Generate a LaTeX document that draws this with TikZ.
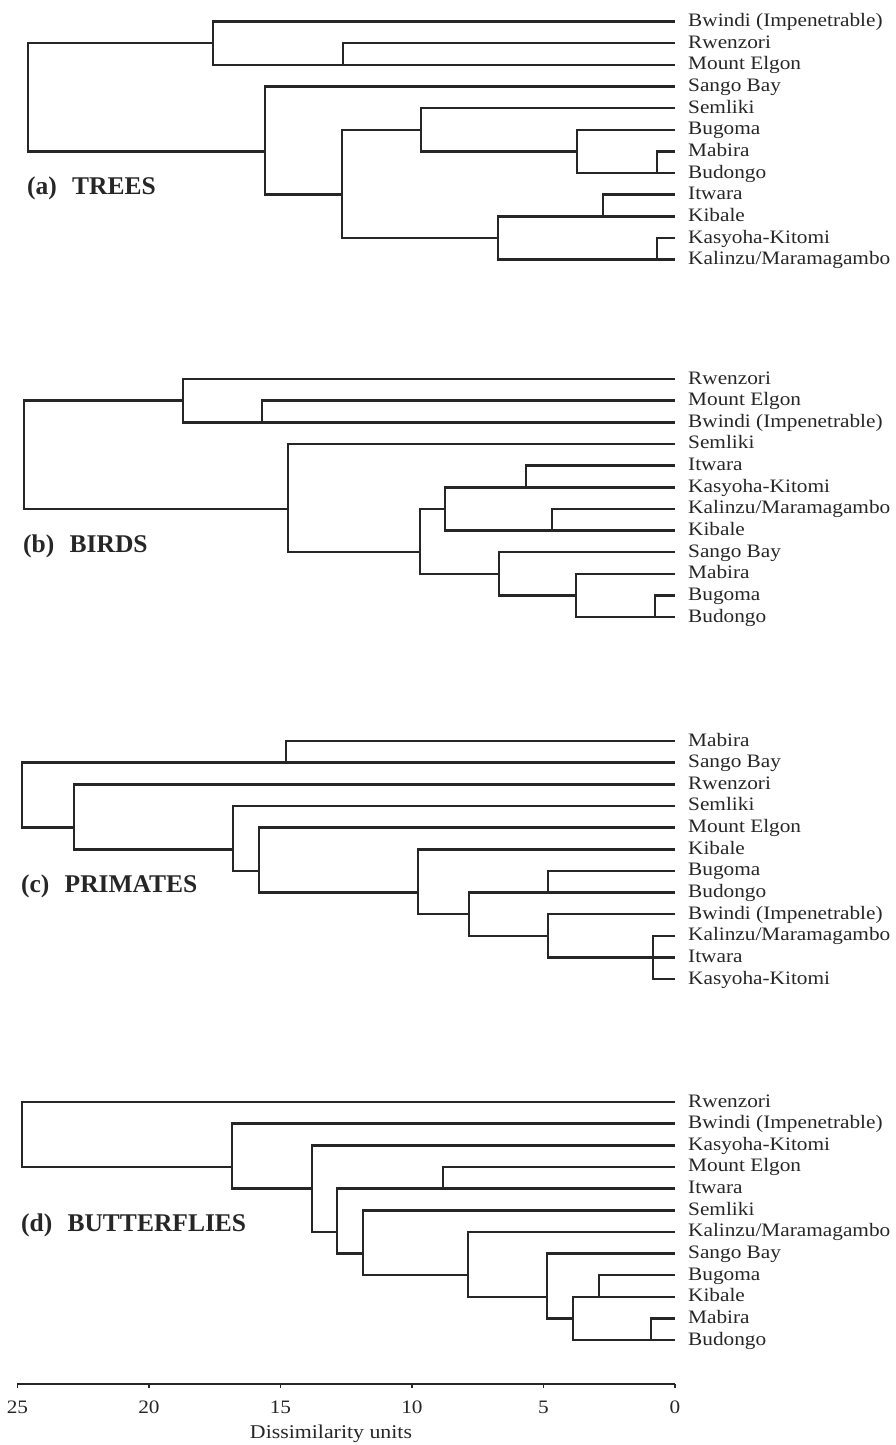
\documentclass[tikz,border=0pt]{standalone}
\usepackage{fontspec}
\setmainfont{Liberation Serif}[FakeStretch=1.12]
\newfontfamily\titlefont{Liberation Serif}
\definecolor{ink}{HTML}{262626}
\tikzset{
  branch/.style={draw=ink, line width=2.5pt, line join=miter},
  leaf/.style={anchor=west, inner xsep=13pt, inner ysep=0pt, text=ink, font=\fontsize{19}{21}\selectfont, text height=13pt, text depth=3pt},
  paneltitle/.style={anchor=base west, inner sep=0pt, text=ink, font=\titlefont\bfseries\fontsize{25.5}{30}\selectfont},
  axisline/.style={draw=ink, line width=2.8pt},
  ticklabel/.style={anchor=north, inner sep=0pt, text=ink, font=\fontsize{19}{21}\selectfont},
}
\begin{document}
\begin{tikzpicture}[x=-26.3pt, y=-21.65pt]
\useasboundingbox (-675pt,0pt) rectangle (221pt,-1445pt);

\begin{scope}[yshift=-21.5pt]
\node[leaf] (a-bwi) at (0,0) {Bwindi (Impenetrable)};
\node[leaf] (a-rwe) at (0,1) {Rwenzori};
\node[leaf] (a-elg) at (0,2) {Mount Elgon};
\node[leaf] (a-san) at (0,3) {Sango Bay};
\node[leaf] (a-sem) at (0,4) {Semliki};
\node[leaf] (a-bug) at (0,5) {Bugoma};
\node[leaf] (a-mab) at (0,6) {Mabira};
\node[leaf] (a-bud) at (0,7) {Budongo};
\node[leaf] (a-itw) at (0,8) {Itwara};
\node[leaf] (a-kib) at (0,9) {Kibale};
\node[leaf] (a-kas) at (0,10) {Kasyoha-Kitomi};
\node[leaf] (a-kal) at (0,11) {Kalinzu/Maramagambo};
\coordinate (a-n2) at (12.63,2);
\coordinate (a-n1) at (17.57,1);
\coordinate (a-n6) at (0.69,7);
\coordinate (a-n5) at (3.73,6);
\coordinate (a-n4) at (9.66,5);
\coordinate (a-n8) at (2.74,9);
\coordinate (a-n10) at (0.69,11);
\coordinate (a-n9) at (6.73,10);
\coordinate (a-n7) at (12.66,8);
\coordinate (a-n3) at (15.59,6);
\coordinate (a-root) at (24.60,1);
\draw[branch] (a-rwe.west) -| (a-n2) |- (a-elg.west);
\draw[branch] (a-bwi.west) -| (a-n1) |- (a-n2);
\draw[branch] (a-mab.west) -| (a-n6) |- (a-bud.west);
\draw[branch] (a-bug.west) -| (a-n5) |- (a-n6);
\draw[branch] (a-sem.west) -| (a-n4) |- (a-n5);
\draw[branch] (a-itw.west) -| (a-n8) |- (a-kib.west);
\draw[branch] (a-kas.west) -| (a-n10) |- (a-kal.west);
\draw[branch] (a-n8) -| (a-n9) |- (a-n10);
\draw[branch] (a-n4) -| (a-n7) |- (a-n9);
\draw[branch] (a-san.west) -| (a-n3) |- (a-n7);
\draw[branch] (a-n1) -| (a-root) |- (a-n3);
\node[paneltitle] (a-title) at (24.64,8) {(a)\hspace{.6em}TREES};
\end{scope}

\begin{scope}[yshift=-379pt]
\node[leaf] (b-rwe) at (0,0) {Rwenzori};
\node[leaf] (b-elg) at (0,1) {Mount Elgon};
\node[leaf] (b-bwi) at (0,2) {Bwindi (Impenetrable)};
\node[leaf] (b-sem) at (0,3) {Semliki};
\node[leaf] (b-itw) at (0,4) {Itwara};
\node[leaf] (b-kas) at (0,5) {Kasyoha-Kitomi};
\node[leaf] (b-kal) at (0,6) {Kalinzu/Maramagambo};
\node[leaf] (b-kib) at (0,7) {Kibale};
\node[leaf] (b-san) at (0,8) {Sango Bay};
\node[leaf] (b-mab) at (0,9) {Mabira};
\node[leaf] (b-bug) at (0,10) {Bugoma};
\node[leaf] (b-bud) at (0,11) {Budongo};
\coordinate (b-n2) at (15.71,2);
\coordinate (b-n1) at (18.71,1);
\coordinate (b-n6) at (5.67,5);
\coordinate (b-n7) at (4.68,7);
\coordinate (b-n5) at (8.75,6);
\coordinate (b-n10) at (0.76,11);
\coordinate (b-n9) at (3.77,10);
\coordinate (b-n8) at (6.69,9);
\coordinate (b-n4) at (9.70,8);
\coordinate (b-n3) at (14.72,6);
\coordinate (b-root) at (24.75,1);
\draw[branch] (b-elg.west) -| (b-n2) |- (b-bwi.west);
\draw[branch] (b-rwe.west) -| (b-n1) |- (b-n2);
\draw[branch] (b-itw.west) -| (b-n6) |- (b-kas.west);
\draw[branch] (b-kal.west) -| (b-n7) |- (b-kib.west);
\draw[branch] (b-n6) -| (b-n5) |- (b-n7);
\draw[branch] (b-bug.west) -| (b-n10) |- (b-bud.west);
\draw[branch] (b-mab.west) -| (b-n9) |- (b-n10);
\draw[branch] (b-san.west) -| (b-n8) |- (b-n9);
\draw[branch] (b-n5) -| (b-n4) |- (b-n8);
\draw[branch] (b-sem.west) -| (b-n3) |- (b-n4);
\draw[branch] (b-n1) -| (b-root) |- (b-n3);
\node[paneltitle] (b-title) at (24.79,8) {(b)\hspace{.6em}BIRDS};
\end{scope}

\begin{scope}[yshift=-741pt]
\node[leaf] (c-mab) at (0,0) {Mabira};
\node[leaf] (c-san) at (0,1) {Sango Bay};
\node[leaf] (c-rwe) at (0,2) {Rwenzori};
\node[leaf] (c-sem) at (0,3) {Semliki};
\node[leaf] (c-elg) at (0,4) {Mount Elgon};
\node[leaf] (c-kib) at (0,5) {Kibale};
\node[leaf] (c-bug) at (0,6) {Bugoma};
\node[leaf] (c-bud) at (0,7) {Budongo};
\node[leaf] (c-bwi) at (0,8) {Bwindi (Impenetrable)};
\node[leaf] (c-kal) at (0,9) {Kalinzu/Maramagambo};
\node[leaf] (c-itw) at (0,10) {Itwara};
\node[leaf] (c-kas) at (0,11) {Kasyoha-Kitomi};
\coordinate (c-n1) at (14.79,1);
\coordinate (c-n9) at (0.84,10);
\coordinate (c-n8) at (4.83,9);
\coordinate (c-n6) at (4.83,7);
\coordinate (c-n7) at (7.83,8);
\coordinate (c-n5) at (9.77,7);
\coordinate (c-n4) at (15.82,6);
\coordinate (c-n3) at (16.81,5);
\coordinate (c-n2) at (22.85,4);
\coordinate (c-root) at (24.83,1);
\draw[branch] (c-mab.west) -| (c-n1) |- (c-san.west);
\draw[branch] (c-kal.west) -| (c-n9) |- (c-kas.west);
\draw[branch] (c-itw.west) -- (c-n9);
\draw[branch] (c-bwi.west) -| (c-n8) |- (c-n9);
\draw[branch] (c-bug.west) -| (c-n6) |- (c-bud.west);
\draw[branch] (c-n6) -| (c-n7) |- (c-n8);
\draw[branch] (c-kib.west) -| (c-n5) |- (c-n7);
\draw[branch] (c-elg.west) -| (c-n4) |- (c-n5);
\draw[branch] (c-sem.west) -| (c-n3) |- (c-n4);
\draw[branch] (c-rwe.west) -| (c-n2) |- (c-n3);
\draw[branch] (c-n1) -| (c-root) |- (c-n2);
\node[paneltitle] (c-title) at (24.87,7) {(c)\hspace{.6em}PRIMATES};
\end{scope}

\begin{scope}[yshift=-1102pt]
\node[leaf] (d-rwe) at (0,0) {Rwenzori};
\node[leaf] (d-bwi) at (0,1) {Bwindi (Impenetrable)};
\node[leaf] (d-kas) at (0,2) {Kasyoha-Kitomi};
\node[leaf] (d-elg) at (0,3) {Mount Elgon};
\node[leaf] (d-itw) at (0,4) {Itwara};
\node[leaf] (d-sem) at (0,5) {Semliki};
\node[leaf] (d-kal) at (0,6) {Kalinzu/Maramagambo};
\node[leaf] (d-san) at (0,7) {Sango Bay};
\node[leaf] (d-bug) at (0,8) {Bugoma};
\node[leaf] (d-kib) at (0,9) {Kibale};
\node[leaf] (d-mab) at (0,10) {Mabira};
\node[leaf] (d-bud) at (0,11) {Budongo};
\coordinate (d-n3) at (8.82,4);
\coordinate (d-n9) at (2.89,9);
\coordinate (d-n10) at (0.91,11);
\coordinate (d-n8) at (3.88,10);
\coordinate (d-n7) at (4.87,9);
\coordinate (d-n6) at (7.87,8);
\coordinate (d-n5) at (11.87,7);
\coordinate (d-n4) at (12.85,6);
\coordinate (d-n2) at (13.80,4);
\coordinate (d-n1) at (16.85,3);
\coordinate (d-root) at (24.83,0);
\draw[branch] (d-elg.west) -| (d-n3) |- (d-itw.west);
\draw[branch] (d-bug.west) -| (d-n9) |- (d-kib.west);
\draw[branch] (d-mab.west) -| (d-n10) |- (d-bud.west);
\draw[branch] (d-n9) -| (d-n8) |- (d-n10);
\draw[branch] (d-san.west) -| (d-n7) |- (d-n8);
\draw[branch] (d-kal.west) -| (d-n6) |- (d-n7);
\draw[branch] (d-sem.west) -| (d-n5) |- (d-n6);
\draw[branch] (d-n3) -| (d-n4) |- (d-n5);
\draw[branch] (d-kas.west) -| (d-n2) |- (d-n4);
\draw[branch] (d-bwi.west) -| (d-n1) |- (d-n2);
\draw[branch] (d-rwe.west) -| (d-root) |- (d-n1);
\node[paneltitle] (d-title) at (24.87,6) {(d)\hspace{.6em}BUTTERFLIES};
\end{scope}

\begin{scope}[yshift=-1384pt]
\draw[axisline] (25,0) -- (0,0);
\draw[ink, line width=1.8pt] (25,0) -- +(0pt,-4pt) (20,0) -- +(0pt,-4pt) (15,0) -- +(0pt,-4pt)
  (10,0) -- +(0pt,-4pt) (5,0) -- +(0pt,-4pt) (0,0) -- +(0pt,-4pt);
\node[ticklabel, yshift=-17pt] (t25) at (25,0) {25};
\node[ticklabel, yshift=-17pt] (t20) at (20,0) {20};
\node[ticklabel, yshift=-17pt] (t15) at (15,0) {15};
\node[ticklabel, yshift=-17pt] (t10) at (10,0) {10};
\node[ticklabel, yshift=-17pt] (t5) at (5,0) {5};
\node[ticklabel, yshift=-17pt] (t0) at (0,0) {0};
\node[ticklabel, yshift=-41pt, font=\fontsize{19.5}{21}\selectfont] (units) at (13.08,0) {Dissimilarity units};
\end{scope}
\end{tikzpicture}
\end{document}
